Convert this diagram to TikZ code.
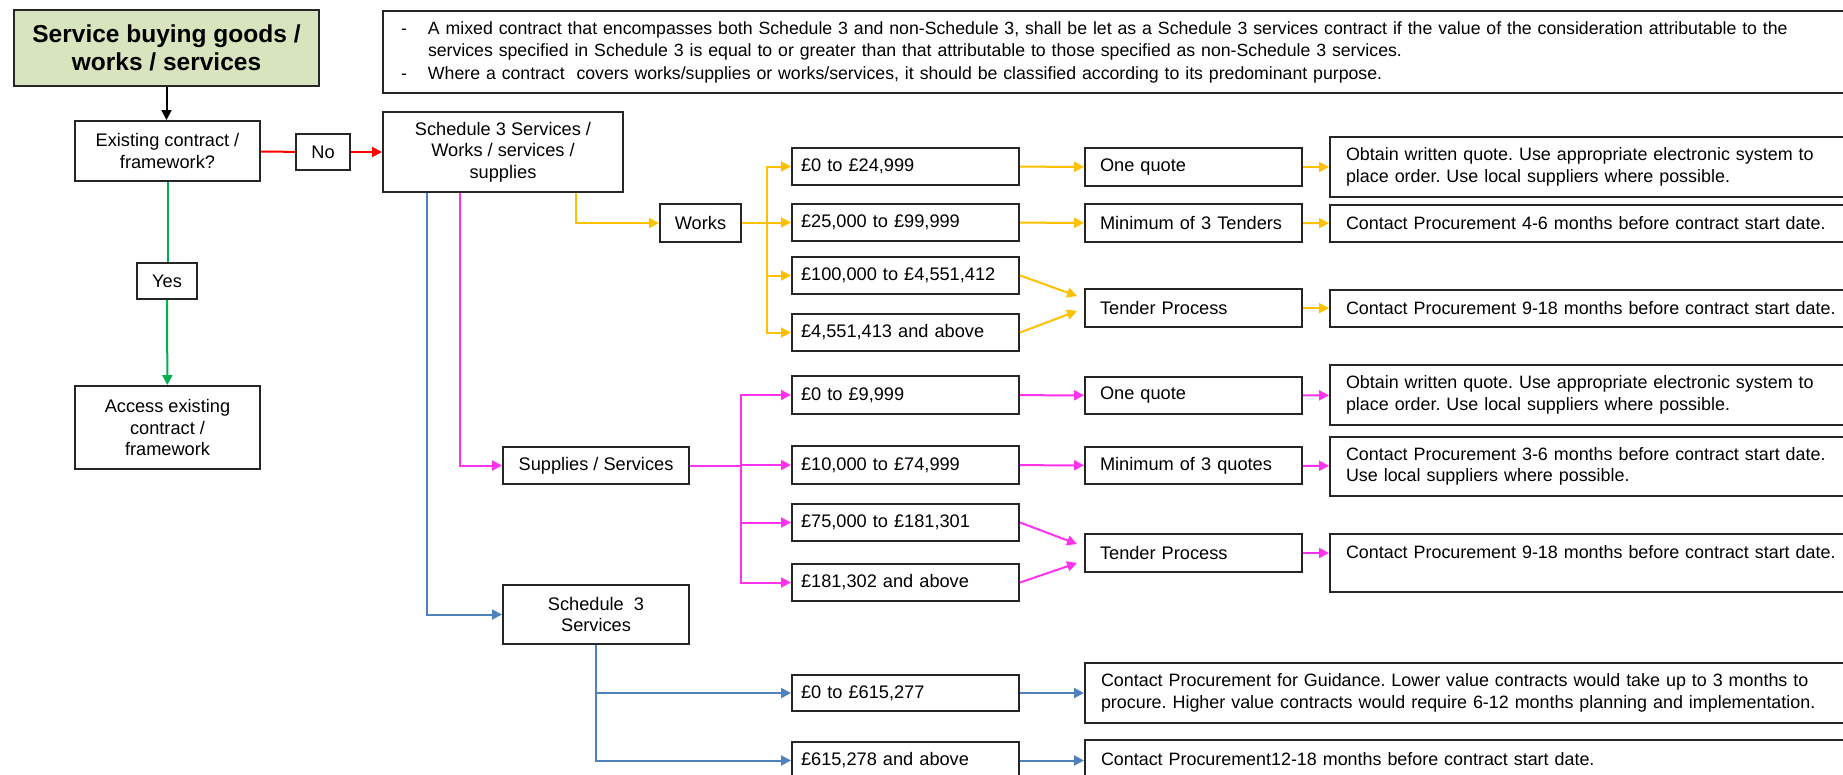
\documentclass[tikz,border=0pt]{standalone}
\usepackage{fontspec}
\setmainfont{Liberation Sans}
\usetikzlibrary{arrows.meta}

\definecolor{worksorange}{HTML}{FFC000}
\definecolor{supplypink}{HTML}{FF33EE}
\definecolor{schedblue}{HTML}{4F81BD}
\definecolor{yesgreen}{HTML}{00B050}
\definecolor{nored}{HTML}{FF0000}
\definecolor{titlegreen}{HTML}{D7E4BD}

\newcommand{\boxfont}{\fontsize{18.2}{21.5}\selectfont}
\newcommand{\advfont}{\fontsize{17.9}{21.5}\selectfont}
\newcommand{\notefont}{\fontsize{17.7}{22.5}\selectfont}
\newcommand{\dashitem}{\makebox[27pt][l]{-}}

\tikzset{
  box/.style={draw=black!85, line width=2pt, anchor=north west, inner sep=0pt, font=\boxfont},
  ctrbox/.style={box, align=center},
  rangebox/.style={box, minimum height=37pt, text width=209pt, inner xsep=9pt, align=left},
  actbox/.style={box, minimum height=38pt, text width=187pt, inner xsep=15pt, align=left},
  advbox/.style={box, text width=600pt, inner xsep=16pt, align=left, font=\advfont},
  conn/.style={line width=2pt},
  tip/.style={-{Triangle[length=10pt,width=10pt]}},
}

\begin{document}
\frenchspacing
\begin{tikzpicture}[x=1pt, y=-1pt]
    \useasboundingbox (0,0) rectangle (1843,774);
    \clip (0,0) rectangle (1843,774);

    % left column
    \draw (13,9) node[ctrbox, fill=titlegreen, minimum width=305pt, minimum height=76pt,
        font=\fontsize{24.5}{28}\selectfont\bfseries] (title) {Service buying goods /\\works / services};
    \draw (382,10) node[box, text width=1500pt, inner xsep=18pt, minimum height=82pt, align=left, font=\notefont] (note)
        {\dashitem A mixed contract that encompasses both Schedule 3 and non-Schedule 3, shall be let as a Schedule 3 services contract if the value of the consideration attributable to the\\
         \hspace*{27pt}services specified in Schedule 3 is equal to or greater than that attributable to those specified as non-Schedule 3 services.\\
         \dashitem Where a contract\ \ covers works/supplies or works/services, it should be classified according to its predominant purpose.};
    \draw (74,120) node[ctrbox, minimum width=185pt, minimum height=60pt] (exist) {Existing contract /\\framework?};
    \draw (295,133) node[ctrbox, minimum width=54pt, minimum height=36pt] (no) {No};
    \draw (382,111) node[ctrbox, minimum width=240pt, minimum height=80pt] (sched) {Schedule 3 Services /\\Works / services /\\supplies};
    \draw (136,262) node[ctrbox, minimum width=60pt, minimum height=36pt] (yes) {Yes};
    \draw (74,385) node[ctrbox, minimum width=185pt, minimum height=83pt] (access) {Access existing\\contract /\\framework};

    % works
    \draw (659,203) node[ctrbox, minimum width=81pt, minimum height=38pt] (works) {Works};
    \draw (791,147) node[rangebox] (wr1) {£0 to £24,999};
    \draw (791,203) node[rangebox] (wr2) {£25,000 to £99,999};
    \draw (791,256) node[rangebox] (wr3) {£100,000 to £4,551,412};
    \draw (791,313) node[rangebox] (wr4) {£4,551,413 and above};
    \draw (1084,147) node[actbox] (wq1) {One quote};
    \draw (1084,203) node[actbox] (wq2) {Minimum of 3 Tenders};
    \draw (1084,288) node[actbox] (wq3) {Tender Process};
    \draw (1329,136) node[advbox, minimum height=60pt] (wa1) {Obtain written quote. Use appropriate electronic system to\\place order. Use local suppliers where possible.};
    \draw (1329,204) node[advbox, minimum height=37pt] (wa2) {Contact Procurement 4-6 months before contract start date.};
    \draw (1329,289) node[advbox, minimum height=37pt] (wa3) {Contact Procurement 9-18 months before contract start date.};

    % supplies / services
    \draw (502,446) node[ctrbox, minimum width=186pt, minimum height=37pt] (sup) {Supplies / Services};
    \draw (791,375) node[rangebox, minimum height=38pt] (sr1) {£0 to £9,999};
    \draw (791,445) node[rangebox, minimum height=38pt] (sr2) {£10,000 to £74,999};
    \draw (791,503) node[rangebox] (sr3) {£75,000 to £181,301};
    \draw (791,563) node[rangebox] (sr4) {£181,302 and above};
    \draw (1084,376) node[actbox, minimum height=37pt] (sq1) {One quote};
    \draw (1084,446) node[actbox, minimum height=37pt] (sq2) {Minimum of 3 quotes};
    \draw (1084,533) node[actbox] (sq3) {Tender Process};
    \draw (1329,364) node[advbox, minimum height=60pt] (sa1) {Obtain written quote. Use appropriate electronic system to\\place order. Use local suppliers where possible.};
    \draw (1329,436) node[advbox, minimum height=59pt] (sa2) {Contact Procurement 3-6 months before contract start date.\\Use local suppliers where possible.};
    \draw (1329,533) node[advbox, minimum height=58pt] (sa3) {Contact Procurement 9-18 months before contract start date.\\\mbox{}};

    % schedule 3 services
    \draw (502,584) node[ctrbox, minimum width=186pt, minimum height=59pt] (s3) {Schedule\ \ 3\\Services};
    \draw (791,674) node[rangebox, minimum height=36pt] (br1) {£0 to £615,277};
    \draw (791,741) node[rangebox] (br2) {£615,278 and above};
    \draw (1084,662) node[advbox, text width=800pt, minimum height=60pt] (ba1) {Contact Procurement for Guidance. Lower value contracts would take up to 3 months to\\procure. Higher value contracts would require 6-12 months planning and implementation.};
    \draw (1084,739) node[advbox, text width=800pt, minimum height=60pt] (ba2) {Contact Procurement12-18 months before contract start date.\\\mbox{}};

    % decision
    \draw[conn, tip] (title.south) -- (title.south |- exist.north);
    \draw[conn, nored] (exist) -- (no);
    \draw[conn, nored, tip] (no) -- (sched);
    \draw[conn, yesgreen] (exist.south) -- (exist.south |- yes.north);
    \draw[conn, yesgreen, tip] (yes) -- (access);

    % works branch
    \draw[conn, worksorange, tip] ([xshift=73pt]sched.south) |- (works);
    \foreach \r in {wr1,wr2,wr3,wr4}
        \draw[conn, worksorange, tip] (works.east) -- ++(25,0) |- (\r.west);
    \draw[conn, worksorange, tip] (wr1) -- (wq1);
    \draw[conn, worksorange, tip] (wr2) -- (wq2);
    \draw[conn, worksorange, tip] (wr3.east) -- ([xshift=-7pt, yshift=12pt]wq3.west);
    \draw[conn, worksorange, tip] (wr4.east) -- ([xshift=-7pt, yshift=-3pt]wq3.west);
    \draw[conn, worksorange, tip] (wq1) -- (wa1);
    \draw[conn, worksorange, tip] (wq2) -- (wa2);
    \draw[conn, worksorange, tip] (wq3) -- (wa3);

    % supplies branch
    \draw[conn, supplypink, tip] ([xshift=-43pt]sched.south) |- (sup);
    \foreach \r in {sr1,sr2,sr3,sr4}
        \draw[conn, supplypink, tip] (sup.east) -- ++(51,0) |- (\r.west);
    \draw[conn, supplypink, tip] (sr1) -- (sq1);
    \draw[conn, supplypink, tip] (sr2) -- (sq2);
    \draw[conn, supplypink, tip] (sr3.east) -- ([xshift=-7pt, yshift=9pt]sq3.west);
    \draw[conn, supplypink, tip] (sr4.east) -- ([xshift=-7pt, yshift=-10pt]sq3.west);
    \draw[conn, supplypink, tip] (sq1) -- (sa1);
    \draw[conn, supplypink, tip] (sq2) -- (sa2);
    \draw[conn, supplypink, tip] (sq3.east) -- (sq3.east -| sa3.west);

    % schedule 3 branch
    \draw[conn, schedblue, tip] ([xshift=-76pt]sched.south) |- (s3);
    \foreach \r in {br1,br2}
        \draw[conn, schedblue, tip] (s3.south) |- (\r.west);
    \draw[conn, schedblue, tip] (br1) -- (ba1);
    \draw[conn, schedblue, tip] (br2.east) -- (br2.east -| ba2.west);
\end{tikzpicture}
\end{document}
